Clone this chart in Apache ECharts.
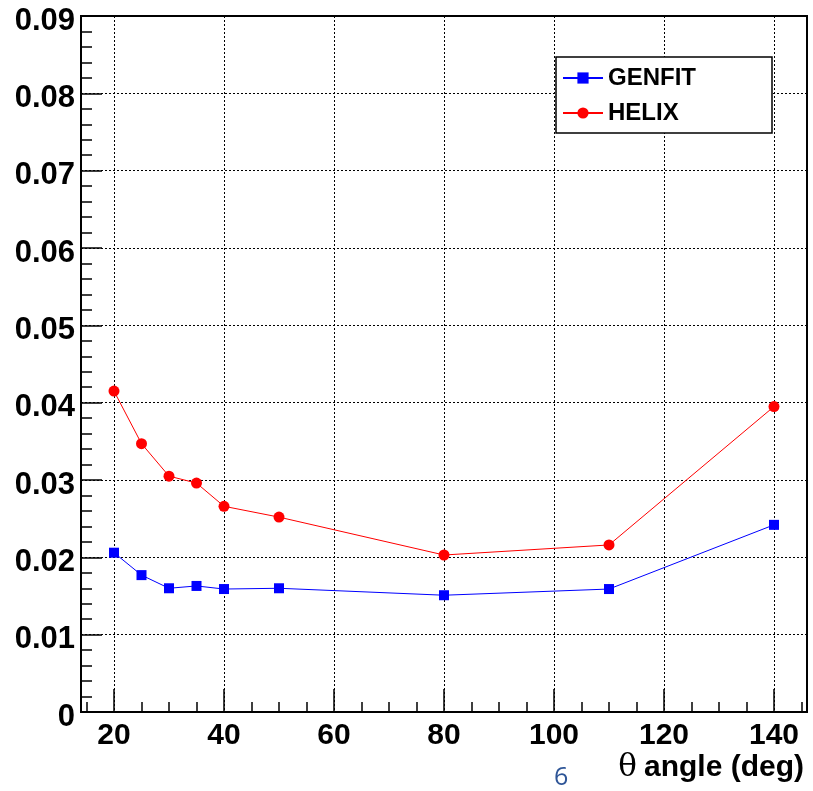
<!DOCTYPE html>
<html>
<head>
<meta charset="utf-8">
<script src="https://cdn.jsdelivr.net/npm/echarts@6/dist/echarts.min.js"></script>
<style>html,body{margin:0;padding:0;background:#fff;}#c{width:813px;height:791px;}</style>
</head>
<body>
<div id="c"></div>
<script>
// ---- data ----
const angles = [20, 25, 30, 35, 40, 50, 80, 110, 140];
const genfit = [0.0206, 0.0177, 0.0160, 0.0163, 0.0159, 0.0160, 0.0151, 0.0159, 0.0242];
const helix  = [0.0415, 0.0347, 0.0305, 0.0296, 0.0266, 0.0252, 0.0203, 0.0216, 0.0395];
const xMajorTicks = [20, 40, 60, 80, 100, 120, 140];
const xMinorTicks = [15, 25, 30, 35, 45, 50, 55, 65, 70, 75, 85, 90, 95, 105, 110, 115, 125, 130, 135, 145];
const xName = 'angle (deg)';
const pageNumber = '6';

const chart = echarts.init(document.getElementById('c'), null, {renderer: 'canvas'});
const FONT = 'Liberation Sans';
const axisCol = '#000';
const gridLine = {show: true, lineStyle: {color: '#000', width: 1, type: [2, 2]}};

chart.setOption({
  animation: false,
  backgroundColor: '#fff',
  grid: {left: 81, right: 6, top: 16, bottom: 79, show: true, borderColor: '#000', borderWidth: 2, backgroundColor: 'transparent'},
  legend: {
    orient: 'vertical', left: 556, top: 57,
    itemWidth: 40, itemHeight: 14, itemGap: 7,
    padding: [7, 76, 6, 6],
    backgroundColor: '#fff', borderColor: '#000', borderWidth: 1.5,
    textStyle: {fontFamily: FONT, fontWeight: 'bold', fontSize: 24, color: '#000', lineHeight: 28},
    data: ['GENFIT', 'HELIX']
  },
  xAxis: [{
    type: 'value', min: 14, max: 146,
    axisLine: {show: true, onZero: false, lineStyle: {color: axisCol, width: 2}},
    axisTick: {show: true, inside: true, length: 23, customValues: xMajorTicks, lineStyle: {color: axisCol, width: 1.5}},
    axisLabel: {show: true, customValues: xMajorTicks, margin: 9, fontFamily: FONT, fontWeight: 'bold', fontSize: 30, color: '#000'},
    splitLine: gridLine
  }, {
    type: 'value', min: 14, max: 146, position: 'bottom', gridIndex: 0,
    axisLine: {show: false},
    axisTick: {show: true, inside: true, length: 10, customValues: xMinorTicks, lineStyle: {color: axisCol, width: 1.5}},
    axisLabel: {show: false},
    splitLine: {show: false}
  }],
  yAxis: {
    type: 'value', min: 0, max: 0.09, interval: 0.01,
    axisLine: {show: true, lineStyle: {color: axisCol, width: 2}},
    axisTick: {show: true, inside: true, length: 21, lineStyle: {color: axisCol, width: 1.5}},
    minorTick: {show: true, splitNumber: 5, length: 11, lineStyle: {color: axisCol, width: 1.5}},
    axisLabel: {margin: 6, color: '#000',
      formatter: v => '{a|' + (v === 0 ? '0' : v.toFixed(2)) + '}',
      rich: {a: {fontFamily: FONT, fontWeight: 'bold', fontSize: 31, color: '#000', padding: [10, 0, 0, 0]}}},
    splitLine: gridLine
  },
  series: [{
    name: 'GENFIT', type: 'line', xAxisIndex: 0,
    data: angles.map((a, i) => [a, genfit[i]]),
    symbol: 'rect', symbolSize: 10, showAllSymbol: true,
    itemStyle: {color: '#0000ff'}, lineStyle: {color: '#0000ff', width: 1}
  }, {
    name: 'HELIX', type: 'line', xAxisIndex: 0,
    data: angles.map((a, i) => [a, helix[i]]),
    symbol: 'circle', symbolSize: 11, showAllSymbol: true,
    itemStyle: {color: '#ff0000'}, lineStyle: {color: '#ff0000', width: 1}
  }],
  graphic: [{
    type: 'text', right: 9, top: 752,
    style: {
      text: '{t|θ}{s| }{b|' + xName + '}',
      rich: {
        t: {fontFamily: 'DejaVu Serif', fontSize: 31, fill: '#000'},
        s: {fontFamily: FONT, fontSize: 30, width: 7},
        b: {fontFamily: FONT, fontWeight: 'bold', fontSize: 30, fill: '#000'}
      }
    }
  }, {
    type: 'text', left: 554, top: 765,
    style: {text: pageNumber, fontFamily: 'Open Sans', fontSize: 25, fill: '#2e5597'}
  }]
});
</script>
</body>
</html>
